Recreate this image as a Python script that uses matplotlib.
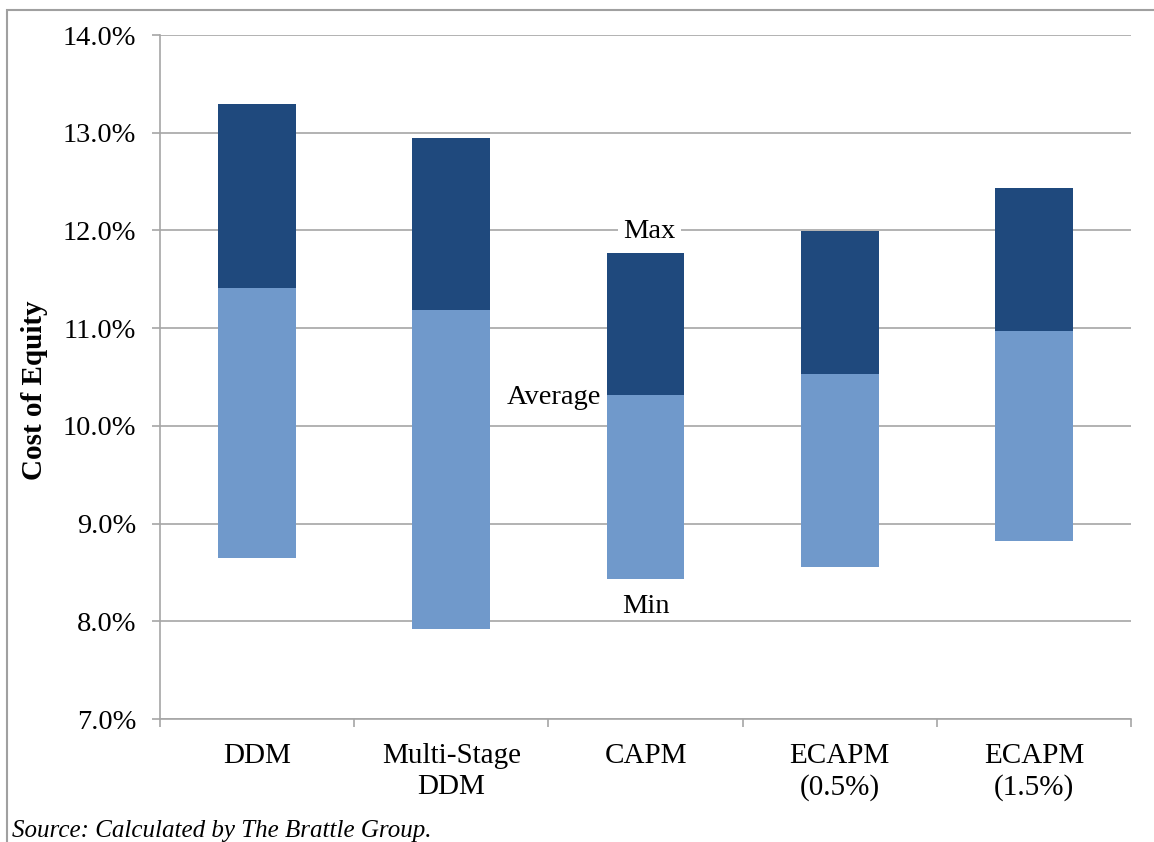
import matplotlib
matplotlib.use("Agg")
import matplotlib.pyplot as plt
from matplotlib.patches import Rectangle

# Cost of equity ranges by method (percent)
categories = ["DDM", "Multi-Stage\nDDM", "CAPM", "ECAPM\n(0.5%)", "ECAPM\n(1.5%)"]
min_vals = [8.65, 7.92, 8.43, 8.56, 8.82]
avg_vals = [11.41, 11.19, 10.32, 10.53, 10.97]
max_vals = [13.29, 12.95, 11.77, 11.99, 12.43]
y_ticks = [7.0, 8.0, 9.0, 10.0, 11.0, 12.0, 13.0, 14.0]

DARK = "#1F497D"
LIGHT = "#7099CB"
GRID = "#A6A6A6"
W, H = 1154, 842

plt.rcParams["font.family"] = ["Liberation Serif", "DejaVu Serif"]

fig = plt.figure(figsize=(W / 100, H / 100), dpi=100)
ax = fig.add_axes([160 / W, 1 - 719 / H, (1131 - 160) / W, (719 - 35) / H])

x = list(range(len(categories)))
lower = [a - m for a, m in zip(avg_vals, min_vals)]
upper = [mx - a for mx, a in zip(max_vals, avg_vals)]
ax.bar(x, lower, bottom=min_vals, width=0.40, color=LIGHT, zorder=3)
ax.bar(x, upper, bottom=avg_vals, width=0.40, color=DARK, zorder=3)

ax.set_xlim(-0.5, len(categories) - 0.5)
ax.set_ylim(7.0, 14.0)
ax.set_yticks(y_ticks)
ax.set_yticklabels([f"{v:.1f}%" for v in y_ticks], fontsize=20.5)
ax.yaxis.grid(True, color=GRID, linewidth=1.2, zorder=0)
ax.set_axisbelow(True)

ax.set_xticks(x)
ax.set_xticklabels(categories, fontsize=21, linespacing=1.25)
ax.set_xticks([i - 0.5 for i in range(len(categories) + 1)], minor=True)
ax.tick_params(axis="x", which="major", length=0, pad=17)
ax.tick_params(axis="x", which="minor", length=6, color=GRID, width=1.2)
ax.tick_params(axis="y", length=6, color=GRID, width=1.2, pad=11)

for side in ["top", "right"]:
    ax.spines[side].set_visible(False)
for side in ["left", "bottom"]:
    ax.spines[side].set_color(GRID)
    ax.spines[side].set_linewidth(1.2)

# Legend-style annotations on the CAPM bar
ci = 2
ax.text(ci + 0.02, 11.99, "Max", ha="center", va="center", fontsize=20.5, zorder=4,
        bbox=dict(facecolor="white", edgecolor="none", pad=4))
ax.text(ci - 0.23, avg_vals[ci] - 0.03, "Average", ha="right", va="center", fontsize=20.5, zorder=4)
ax.text(ci + 0.0, 8.15, "Min", ha="center", va="center", fontsize=20.5, zorder=4)

fig.text(35 / W, 1 - 390 / H, "Cost of Equity", rotation=90, ha="center", va="center",
         fontsize=21, fontweight="bold")
fig.text(12 / W, 1 - 831 / H, "Source: Calculated by The Brattle Group.", ha="left",
         va="center", fontsize=18, fontstyle="italic")

# Outer frame
fig.patches.append(Rectangle((7 / W, -0.05), 1.1, 1 - 9.5 / H + 0.05, transform=fig.transFigure,
                             fill=False, edgecolor="#A0A0A0", linewidth=1.5))

fig.savefig("out.png", dpi=100)
